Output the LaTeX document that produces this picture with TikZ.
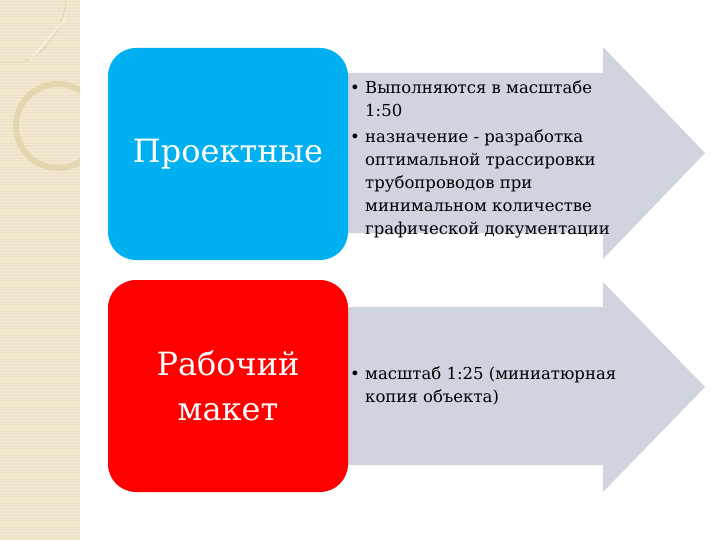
\documentclass[tikz,border=0pt]{standalone}
\usepackage{fontspec}
\setmainfont{DejaVu Serif}
\newfontfamily\timesru{DejaVu Serif}
\usetikzlibrary{positioning}

\definecolor{stripbg}{RGB}{239,227,199}
\definecolor{stripline}{RGB}{228,214,176}
\definecolor{boxblue}{RGB}{0,176,240}
\definecolor{boxred}{RGB}{255,0,0}
\definecolor{arrowgray}{RGB}{208,212,222}

\tikzset{
	catbox/.style={rounded corners=28pt, minimum width=240pt, minimum height=212pt, inner sep=0pt, text=white, font=\timesru\fontsize{32}{45}\selectfont, align=center},
	bullets/.style={inner sep=0pt, anchor=west, font=\timesru\fontsize{16.5}{23}\selectfont},
	bigarrow/.style={fill=arrowgray, draw=none}
}

\begin{document}
\begin{tikzpicture}[x=1pt,y=-1pt]
	\useasboundingbox (0,0) rectangle (720,540);
	\fill[white] (0,0) rectangle (720,540);
	% left strip
	\fill[stripbg] (0,0) rectangle (80,540);
	\foreach \y in {0,3,...,540} \draw[white, opacity=0.3, line width=0.8pt] (0,\y) -- (80,\y);
	\begin{scope}
		\clip (0,0) rectangle (80,540);
		\draw[stripline, line width=6pt] (58,126) circle (42);
		\draw[stripline, line width=1pt] (0,62) -- (24,62) .. controls (50,50) and (64,25) .. (66,0);
		\draw[white, opacity=0.5, line width=1.5pt] (30,60) -- (66,18);
	\end{scope}
	% arrows
	\fill[bigarrow] (345,73) -- (603,73) -- (603,47) -- (705,153) -- (603,259) -- (603,233) -- (345,233) -- cycle;
	\fill[bigarrow] (345,307) -- (603,307) -- (603,282) -- (705,387) -- (603,492) -- (603,465) -- (345,465) -- cycle;
	% boxes
	\node[catbox, fill=boxblue] (proj) at (228,154) {Проектные};
	\node[catbox, fill=boxred] (work) at (228,386) {Рабочий\\макет};
	% bullet texts
	\node[bullets] (projtext) at (350,159) {\begin{tabular}{@{}p{15pt}@{}l@{}}
		\textbullet & Выполняются в масштабе\\
		& 1:50\\[3pt]
		\textbullet & назначение - разработка\\
		& оптимальной трассировки\\
		& трубопроводов при\\
		& минимальном количестве\\
		& графической документации
	\end{tabular}};
	\node[bullets] (worktext) at (350,386) {\begin{tabular}{@{}p{15pt}@{}l@{}}
		\textbullet & масштаб 1:25 (миниатюрная\\
		& копия объекта)
	\end{tabular}};
\end{tikzpicture}
\end{document}
